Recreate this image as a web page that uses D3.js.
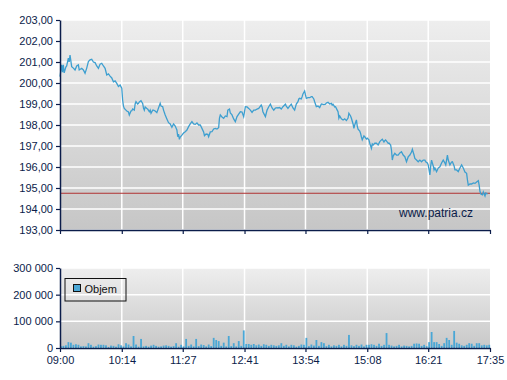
<!DOCTYPE html>
<html><head><meta charset="utf-8">
<script src="https://cdn.jsdelivr.net/npm/d3@7"></script>
<style>
html,body{margin:0;padding:0;background:#fff;}
svg{display:block;font-family:"Liberation Sans",Arial,sans-serif;}
</style></head>
<body><svg id="c" width="507" height="380"></svg>
<script>
// ---- data ----
const priceTimes = [
"09:00","09:02","09:03","09:04","09:05","09:07","09:08","09:10","09:11","09:12",
"09:14","09:16","09:18","09:20","09:22","09:23","09:26","09:28","09:30","09:32",
"09:34","09:36","09:38","09:40","09:42","09:44","09:46","09:48","09:50","09:52",
"09:54","09:56","09:58","10:00","10:02","10:04","10:06","10:08","10:10","10:12",
"10:14","10:15","10:16","10:17","10:19","10:20","10:22","10:23","10:25","10:26",
"10:27","10:29","10:30","10:31","10:33","10:34","10:35","10:37","10:39","10:40",
"10:41","10:42","10:44","10:45","10:47","10:48","10:49","10:51","10:52","10:54",
"10:56","10:58","11:00","11:01","11:03","11:04","11:06","11:08","11:10","11:12",
"11:14","11:16","11:18","11:20","11:21","11:22","11:23","11:24","11:26","11:28",
"11:30","11:32","11:34","11:36","11:38","11:40","11:42","11:44","11:46","11:48",
"11:50","11:52","11:53","11:55","11:57","11:58","12:00","12:02","12:04","12:06",
"12:08","12:10","12:11","12:12","12:14","12:16","12:18","12:20","12:21","12:23",
"12:24","12:26","12:28","12:30","12:32","12:34","12:36","12:38","12:40","12:42",
"12:44","12:46","12:48","12:50","12:52","12:54","12:56","12:58","13:01","13:02",
"13:03","13:06","13:08","13:10","13:12","13:14","13:16","13:18","13:20","13:21",
"13:23","13:25","13:27","13:30","13:31","13:33","13:35","13:37","13:39","13:41",
"13:43","13:45","13:46","13:47","13:49","13:50","13:51","13:53","13:54","13:55",
"13:57","13:59","14:01","14:02","14:04","14:05","14:07","14:09","14:11","14:13",
"14:14","14:16","14:18","14:19","14:21","14:23","14:25","14:26","14:27","14:29",
"14:30","14:32","14:33","14:34","14:35","14:37","14:39","14:41","14:43","14:45",
"14:46","14:48","14:49","14:51","14:52","14:53","14:55","14:56","14:57","14:59",
"15:00","15:01","15:02","15:04","15:05","15:07","15:08","15:10","15:11","15:13",
"15:14","15:15","15:17","15:19","15:21","15:23","15:25","15:26","15:28","15:29",
"15:30","15:32","15:33","15:34","15:36","15:37","15:38","15:39","15:41","15:43",
"15:45","15:47","15:49","15:51","15:53","15:55","15:57","15:59","16:01","16:02",
"16:04","16:05","16:07","16:09","16:11","16:13","16:15","16:17","16:18","16:20",
"16:21","16:22","16:23","16:24","16:25","16:27","16:28","16:29","16:31","16:33",
"16:35","16:37","16:39","16:41","16:42","16:44","16:45","16:47","16:49","16:50",
"16:52","16:53","16:55","16:57","16:59","17:01","17:03","17:04","17:05","17:07",
"17:08","17:09","17:11","17:13","17:15","17:17","17:19","17:21","17:22","17:23",
"17:24","17:26","17:27","17:29","17:30","17:32"];
const priceValues = [
200.30,200.86,200.52,200.86,200.48,200.76,200.81,201.19,201.00,201.33,
200.78,200.71,200.62,200.81,200.86,200.62,200.70,200.62,200.46,200.71,
201.02,201.10,201.13,201.00,200.97,200.81,200.70,200.90,200.94,200.81,
200.70,200.38,200.43,200.33,200.24,200.06,200.10,199.98,199.83,199.90,
199.75,199.19,198.90,198.79,198.71,198.67,198.62,198.48,198.67,198.68,
198.76,198.71,199.00,199.11,199.00,199.03,199.10,199.16,199.03,198.81,
198.71,198.86,198.79,198.76,198.63,198.71,198.56,198.71,198.71,198.67,
198.59,198.81,199.03,198.90,198.87,198.71,198.48,198.29,198.11,198.05,
197.89,198.05,197.95,197.76,197.44,197.57,197.32,197.43,197.52,197.62,
197.68,197.76,197.92,198.05,198.16,198.05,198.03,198.10,198.00,198.00,
197.84,197.67,197.49,197.57,197.56,197.44,197.67,197.68,197.81,197.84,
197.81,197.87,198.33,198.48,198.38,198.32,198.43,198.40,198.71,198.76,
198.57,198.48,198.29,198.16,198.40,198.52,198.63,198.62,198.40,198.87,
198.86,198.79,198.71,198.60,198.71,198.71,198.76,198.79,198.95,198.86,
198.63,198.40,198.71,198.87,198.99,198.81,198.71,198.81,198.83,198.81,
198.83,198.76,198.87,198.99,198.90,198.79,198.90,198.99,198.81,198.71,
199.00,199.11,199.24,199.27,199.24,199.35,199.48,199.62,199.43,199.27,
199.30,199.30,199.35,199.35,199.24,199.11,198.87,198.90,198.83,199.00,
198.99,198.97,198.99,199.05,199.08,199.00,199.03,198.95,198.99,198.86,
198.87,198.71,198.63,198.33,198.43,198.29,198.24,198.29,198.21,198.33,
198.56,198.43,198.32,198.05,197.84,198.00,198.24,197.95,197.80,197.71,
197.60,197.43,197.29,197.48,197.44,197.33,197.37,197.29,197.13,196.89,
197.10,197.05,197.13,197.13,197.05,197.21,197.29,197.32,197.19,197.25,
197.29,197.19,197.13,197.14,197.05,196.81,196.33,196.52,196.65,196.57,
196.57,196.67,196.73,196.57,196.49,196.25,196.48,196.57,196.71,196.84,
196.57,196.41,196.33,196.25,196.33,196.25,196.33,196.33,196.25,196.19,
196.10,195.86,195.62,196.05,196.33,196.05,195.86,195.95,195.78,195.95,
196.01,196.19,196.33,196.19,196.10,196.57,196.33,196.10,196.24,196.25,
196.05,195.86,195.86,195.78,195.95,196.10,195.95,195.86,195.76,195.70,
195.38,195.14,195.19,195.19,195.24,195.22,195.29,195.35,195.14,194.83,
194.71,194.67,194.81,194.62,194.76,194.71];
const previousClose = 194.75;

// volume in thousands of shares, one value per 3-minute interval starting 09:00
const volumeStart = "09:00";
const volumeStepMinutes = 3;
const volumeValues = [
7,8,10,22,20,12,14,12,6,7,
6,18,12,5,7,13,12,12,10,4,
9,8,5,14,10,6,18,13,6,45,
13,5,34,6,8,5,9,12,8,5,
6,9,10,8,5,7,18,5,12,6,
34,8,13,6,34,7,13,11,6,13,
7,38,30,26,8,20,6,45,7,18,
6,26,8,66,15,15,12,15,10,13,
8,14,12,8,12,10,8,10,18,8,
12,6,12,10,5,8,13,12,38,7,
13,9,30,8,22,18,7,12,6,10,
8,12,6,12,8,49,10,7,12,8,
13,6,12,12,14,12,8,16,8,12,
56,12,9,6,8,12,6,9,8,6,
8,16,17,16,8,12,7,22,60,22,
22,15,8,18,38,30,12,64,20,16,
10,8,12,18,16,8,18,18,10,12,
10,12];

const timeTickLabels = ["09:00","10:14","11:27","12:41","13:54","15:08","16:21","17:35"];
const priceTicks = [193,194,195,196,197,198,199,200,201,202,203];
const volumeTicks = [0,100000,200000,300000];
const legendLabel = "Objem";
const watermark = "www.patria.cz";

// ---- drawing ----
const toMin = s => { const [h,m] = s.split(":").map(Number); return h*60+m; };
const svg = d3.select("#c");
const L = 60, R = 490;
const pTop = 20, pBot = 230, vTop = 268, vBot = 348;
const navy = "#0b1c4a";
const lineCol = "#3d9fd0", barCol = "#4aa7d6";

const x = d3.scaleLinear().domain([toMin("09:00"), toMin("17:35")]).range([L, R]);
const yP = d3.scaleLinear().domain([193, 203]).range([pBot, pTop]);
const yV = d3.scaleLinear().domain([0, 300000]).range([vBot, vTop]);

const defs = svg.append("defs");
const g1 = defs.append("linearGradient").attr("id","bgP").attr("x1",0).attr("y1",0).attr("x2",0).attr("y2",1);
g1.append("stop").attr("offset","0%").attr("stop-color","#eeeeee");
g1.append("stop").attr("offset","100%").attr("stop-color","#c6c6c6");
const g2 = defs.append("linearGradient").attr("id","bgV").attr("x1",0).attr("y1",0).attr("x2",0).attr("y2",1);
g2.append("stop").attr("offset","0%").attr("stop-color","#eeeeee");
g2.append("stop").attr("offset","100%").attr("stop-color","#c8c8c8");

svg.append("rect").attr("x",L).attr("y",pTop).attr("width",R-L).attr("height",pBot-pTop).attr("fill","url(#bgP)");
svg.append("rect").attr("x",L).attr("y",vTop).attr("width",R-L).attr("height",vBot-vTop).attr("fill","url(#bgV)");

const tickMins = timeTickLabels.map(toMin);

// grid - price panel
svg.append("g").selectAll("line").data(priceTicks).join("line")
  .attr("x1",L).attr("x2",R).attr("y1",d=>yP(d)).attr("y2",d=>yP(d))
  .attr("stroke","#fff").attr("stroke-width",1.5);
svg.append("g").selectAll("line").data(tickMins.slice(1,-1)).join("line")
  .attr("x1",d=>x(d)).attr("x2",d=>x(d)).attr("y1",pTop).attr("y2",pBot)
  .attr("stroke","#fff").attr("stroke-width",1.5);
// grid - volume panel
svg.append("g").selectAll("line").data(volumeTicks).join("line")
  .attr("x1",L).attr("x2",R).attr("y1",d=>yV(d)).attr("y2",d=>yV(d))
  .attr("stroke","#fff").attr("stroke-width",1.5);
svg.append("g").selectAll("line").data(tickMins.slice(1,-1)).join("line")
  .attr("x1",d=>x(d)).attr("x2",d=>x(d)).attr("y1",vTop).attr("y2",vBot)
  .attr("stroke","#fff").attr("stroke-width",1.5);

// previous close reference line
svg.append("line").attr("x1",L).attr("x2",R).attr("y1",yP(previousClose)).attr("y2",yP(previousClose))
  .attr("stroke","#b03232").attr("stroke-width",1);

// price line
const pts = priceTimes.map((t,i)=>[toMin(t), priceValues[i]]);
svg.append("path").datum(pts)
  .attr("d", d3.line().x(d=>x(d[0])).y(d=>yP(d[1])))
  .attr("fill","none").attr("stroke",lineCol).attr("stroke-width",1.3);

// watermark
svg.append("text").attr("x",473).attr("y",217).attr("text-anchor","end")
  .attr("font-size",12).attr("fill",navy).text(watermark);

// volume bars
const vStart = toMin(volumeStart);
const bw = x(vStart+volumeStepMinutes) - x(vStart);
svg.append("g").selectAll("rect").data(volumeValues).join("rect")
  .attr("x",(d,i)=>x(vStart + i*volumeStepMinutes))
  .attr("width", Math.max(1, bw-0.7))
  .attr("y", d=>yV(d*1000))
  .attr("height", d=>vBot - yV(d*1000))
  .attr("fill", barCol);

// axes
function styleAxis(g){
  g.selectAll(".domain").attr("stroke",navy).attr("stroke-width",1.5);
  g.selectAll(".tick line").attr("stroke",navy).attr("stroke-width",1.2);
  g.selectAll("text").attr("fill",navy).attr("font-size",11).attr("font-family","'Liberation Sans',Arial,sans-serif");
}
const fmtP = d => d.toFixed(2).replace(".",",");
const fmtV = d => d3.format(",")(d).replace(/,/g," ");

svg.append("g").attr("transform",`translate(${L},0)`)
  .call(d3.axisLeft(yP).tickValues(priceTicks).tickFormat(fmtP).tickSize(4).tickSizeOuter(0).tickPadding(3))
  .call(styleAxis);
svg.append("g").attr("transform",`translate(0,${pBot})`)
  .call(d3.axisBottom(x).tickValues(tickMins).tickFormat("").tickSize(4).tickSizeOuter(0))
  .call(styleAxis);
svg.append("g").attr("transform",`translate(${L},0)`)
  .call(d3.axisLeft(yV).tickValues(volumeTicks).tickFormat(fmtV).tickSize(4).tickSizeOuter(0).tickPadding(3))
  .call(styleAxis);
svg.append("g").attr("transform",`translate(0,${vBot})`)
  .call(d3.axisBottom(x).tickValues(tickMins).tickFormat((d,i)=>timeTickLabels[i]).tickSize(4).tickSizeOuter(0).tickPadding(4))
  .call(styleAxis);

// legend
const lg = svg.append("g");
lg.append("rect").attr("x",65).attr("y",278.5).attr("width",61).attr("height",22.5)
  .attr("fill","none").attr("stroke","#111").attr("stroke-width",1);
lg.append("rect").attr("x",73.5).attr("y",284.5).attr("width",7).attr("height",7)
  .attr("fill",barCol).attr("stroke","#111").attr("stroke-width",1);
lg.append("text").attr("x",84.5).attr("y",292.5).attr("font-size",11).attr("fill","#111").text(legendLabel);
</script>
</body></html>
